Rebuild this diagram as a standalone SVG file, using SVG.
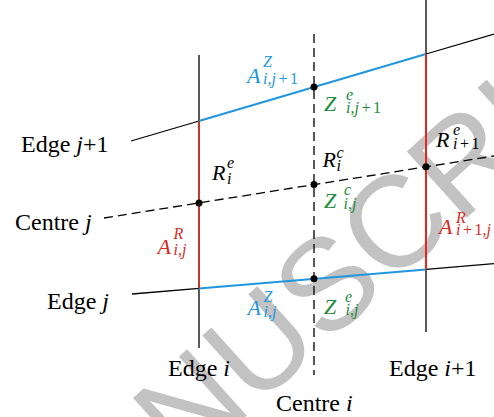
<svg xmlns="http://www.w3.org/2000/svg" width="494" height="417" viewBox="0 0 494 417">
<style>
.lbl{font-family:"Liberation Serif","Times New Roman",serif;font-size:24px;fill:#000}
.it{font-style:italic}
.up{font-style:normal}
.m{font-family:"Liberation Serif","Times New Roman",serif;font-style:italic;font-size:22px}
.s{font-size:16px}
.blue{fill:#2196e0}
.green{fill:#1e8c3a}
.red{fill:#d42a1e}
.blk{fill:#000}
.ln{stroke:#000;stroke-width:1.3;fill:none}
.dash{stroke:#000;stroke-width:1.3;fill:none;stroke-dasharray:9 5}
.bl{stroke:#2196e0;stroke-width:2;fill:none}
.rd1{stroke:#c0392b;stroke-width:2;fill:none}
.rd2{stroke:#e8251b;stroke-width:2;fill:none}
.dot{fill:#000}
.wm{font-family:"Liberation Sans",Arial,sans-serif;font-size:130px;fill:#c2c2c2}
</style>
<rect width="494" height="417" fill="#fff"/>
<g id="watermark">
<text class="wm" transform="translate(40,602) rotate(-42)" x="0" y="0">MANUSCRIPT</text>
</g>
<g id="connectors">
<line class="ln" x1="199" y1="55" x2="199" y2="348"/>
<line class="ln" x1="426" y1="0" x2="426" y2="332"/>
<line class="dash" x1="314" y1="34" x2="314" y2="375"/>
<line class="ln" x1="131" y1="141" x2="199" y2="121"/>
<line class="bl" x1="199" y1="121" x2="426" y2="54"/>
<line class="ln" x1="426" y1="54" x2="494" y2="34"/>
<line class="dash" x1="104" y1="218" x2="494" y2="156"/>
<line class="ln" x1="132" y1="294" x2="199" y2="288.4"/>
<line class="bl" x1="199" y1="288.4" x2="426" y2="269.4"/>
<line class="ln" x1="426" y1="269.4" x2="494" y2="263.7"/>
<line class="rd1" x1="199" y1="121" x2="199" y2="288.4"/>
<line class="rd2" x1="426" y1="54" x2="426" y2="269.4"/>
</g>
<g id="points">
<circle class="dot" cx="199" cy="203" r="3.5"/>
<circle class="dot" cx="314" cy="184.6" r="3.5"/>
<circle class="dot" cx="426" cy="166.8" r="3.5"/>
<circle class="dot" cx="314" cy="87" r="3.5"/>
<circle class="dot" cx="314" cy="278.8" r="3.5"/>
</g>
<g id="edge-labels">
<text class="lbl" x="21" y="152">Edge <tspan class="it">j</tspan>+1</text>
<text class="lbl" x="15" y="230">Centre <tspan class="it">j</tspan></text>
<text class="lbl" x="47" y="309">Edge <tspan class="it">j</tspan></text>
<text class="lbl" x="168" y="376">Edge <tspan class="it">i</tspan></text>
<text class="lbl" x="389" y="376">Edge <tspan class="it">i</tspan>+1</text>
<text class="lbl" x="276" y="410.5">Centre <tspan class="it">i</tspan></text>
</g>
<g id="label-AZ-ij1">
<text class="m blue" x="247" y="83">A<tspan class="s" x="263" y="67">Z</tspan><tspan class="s" x="263" y="84">i<tspan class="up">,</tspan>j<tspan class="up" dx="2.5">+</tspan><tspan class="up" dx="2.5">1</tspan></tspan></text>
</g>
<g id="label-Ze-ij1">
<text class="m green" x="324" y="111">Z<tspan class="s" x="346" y="100">e</tspan><tspan class="s" x="346" y="112.5">i<tspan class="up">,</tspan>j<tspan class="up" dx="2.5">+</tspan><tspan class="up" dx="2.5">1</tspan></tspan></text>
</g>
<g id="label-Re-i">
<text class="m blk" x="212" y="180">R<tspan class="s" x="227" y="168">e</tspan><tspan class="s" x="227" y="184">i</tspan></text>
</g>
<g id="label-Rc-i">
<text class="m blk" x="322.5" y="167">R<tspan class="s" x="336.5" y="158">c</tspan><tspan class="s" x="336.5" y="171">i</tspan></text>
</g>
<g id="label-Zc-ij">
<text class="m green" x="324" y="208">Z<tspan class="s" x="344" y="195">c</tspan><tspan class="s" x="343.5" y="209">i<tspan class="up">,</tspan>j</tspan></text>
</g>
<g id="label-Re-i1">
<text class="m blk" x="436" y="147">R<tspan class="s" x="453" y="135">e</tspan><tspan class="s" x="453" y="148.5">i<tspan class="up" dx="2.5">+</tspan><tspan class="up" dx="2.5">1</tspan></tspan></text>
</g>
<g id="label-AR-i1j">
<text class="m red" x="439" y="233.5">A<tspan class="s" x="456" y="223">R</tspan><tspan class="s" x="456" y="235">i<tspan class="up" dx="2.5">+</tspan><tspan class="up" dx="2.5">1,</tspan>j</tspan></text>
</g>
<g id="label-AR-ij">
<text class="m red" x="157.5" y="253.5">A<tspan class="s" x="173.5" y="238.5">R</tspan><tspan class="s" x="173.5" y="255">i<tspan class="up">,</tspan>j</tspan></text>
</g>
<g id="label-AZ-ij">
<text class="m blue" x="247.5" y="315">A<tspan class="s" x="263.5" y="302">Z</tspan><tspan class="s" x="263.5" y="317">i<tspan class="up">,</tspan>j</tspan></text>
</g>
<g id="label-Ze-ij">
<text class="m green" x="324" y="313.5">Z<tspan class="s" x="345" y="302">e</tspan><tspan class="s" x="345.5" y="315">i<tspan class="up">,</tspan>j</tspan></text>
</g>
</svg>
